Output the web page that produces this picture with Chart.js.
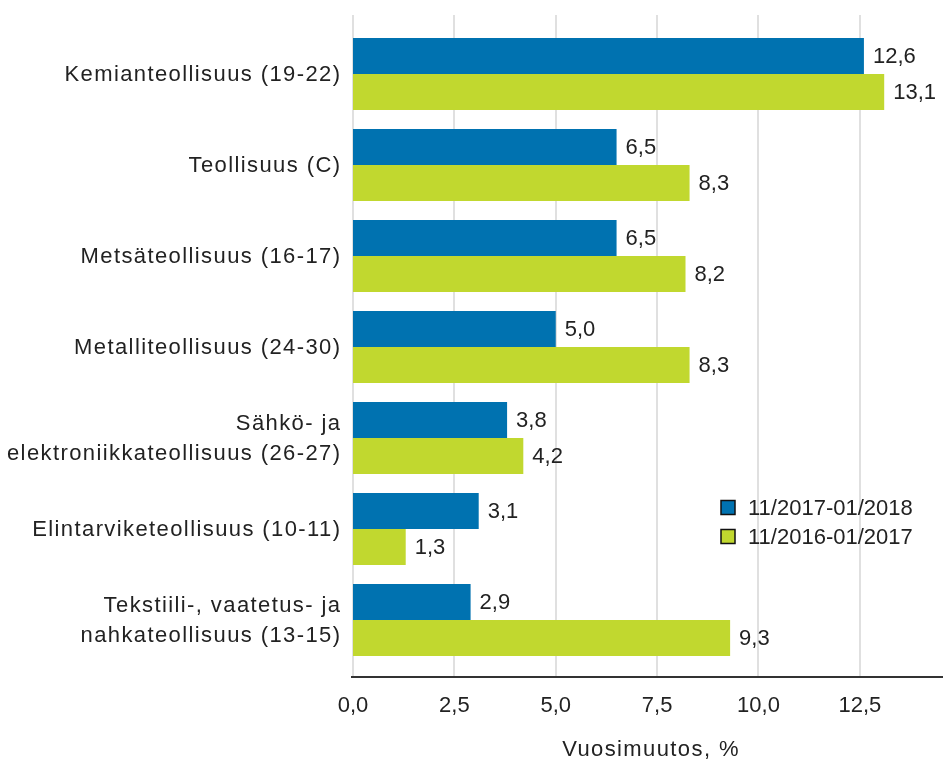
<!DOCTYPE html>
<html>
<head>
<meta charset="utf-8">
<script src="https://cdn.jsdelivr.net/npm/chart.js@4"></script>
<style>
  html, body { margin: 0; padding: 0; background: #fff; }
  canvas { display: block; }
</style>
</head>
<body>
<canvas id="chart" width="943" height="760"></canvas>
<script>
// --- DATA ---
const categories = [
  'Kemianteollisuus (19-22)',
  'Teollisuus (C)',
  'Metsäteollisuus (16-17)',
  'Metalliteollisuus (24-30)',
  ['Sähkö- ja', 'elektroniikkateollisuus (26-27)'],
  'Elintarviketeollisuus (10-11)',
  ['Tekstiili-, vaatetus- ja', 'nahkateollisuus (13-15)']
];
const seriesLabels = ['11/2017-01/2018', '11/2016-01/2017'];
const values2018 = [12.6, 6.5, 6.5, 5.0, 3.8, 3.1, 2.9];
const values2017 = [13.1, 8.3, 8.2, 8.3, 4.2, 1.3, 9.3];
const tickValues = [0, 2.5, 5, 7.5, 10, 12.5];
const axisTitle = 'Vuosimuutos, %';

// --- STYLE ---
const FONT = "'Liberation Sans', Arial, sans-serif";
const TEXT = '#222';
const BLUE = '#0072B0';
const GREEN = '#C1D82F';
const fmt = v => v.toFixed(1).replace('.', ',');

// gridlines run a bit past the plot area, like in the original
const gridPlugin = {
  id: 'grid',
  beforeDatasetsDraw(chart) {
    const { ctx, chartArea } = chart;
    const x = chart.scales.x;
    const top = chartArea.top - 13.5;
    const bottom = chartArea.bottom + 11.5;
    ctx.save();
    ctx.strokeStyle = '#e0e0e0';
    ctx.lineWidth = 2;
    tickValues.forEach(v => {
      const px = Math.round(x.getPixelForValue(v));
      ctx.beginPath();
      ctx.moveTo(px, top);
      ctx.lineTo(px, bottom);
      ctx.stroke();
    });
    ctx.strokeStyle = '#333';
    ctx.lineWidth = 2;
    ctx.beginPath();
    ctx.moveTo(chartArea.left - 2, bottom);
    ctx.lineTo(chartArea.right, bottom);
    ctx.stroke();
    ctx.restore();
  }
};

const textPlugin = {
  id: 'texts',
  afterDatasetsDraw(chart) {
    const { ctx, chartArea } = chart;
    const y = chart.scales.y;
    ctx.save();
    ctx.fillStyle = TEXT;
    ctx.font = '22px ' + FONT;
    ctx.textBaseline = 'middle';

    // value labels at bar ends
    ctx.textAlign = 'left';
    chart.data.datasets.forEach((ds, di) => {
      chart.getDatasetMeta(di).data.forEach((bar, i) => {
        ctx.fillText(fmt(ds.data[i]), bar.x + 9, bar.y + 1);
      });
    });

    // category labels
    const ls = 1.4;
    ctx.letterSpacing = ls + 'px';
    ctx.textAlign = 'right';
    categories.forEach((label, i) => {
      const lines = Array.isArray(label) ? label : [label];
      const cy = y.getPixelForValue(i);
      lines.forEach((line, j) => {
        ctx.fillText(line, chartArea.left - 13 + ls, cy + 1 + (j - (lines.length - 1) / 2) * 30);
      });
    });

    // axis title
    ctx.textAlign = 'center';
    ctx.fillText(axisTitle, (chartArea.left + chartArea.right) / 2 + 3, chartArea.bottom + 84);
    ctx.letterSpacing = '0px';

    // legend
    ctx.textAlign = 'left';
    const lx = chartArea.left + 368;
    const ly = chartArea.top + 472;
    chart.data.datasets.forEach((ds, di) => {
      const sy = ly + di * 29;
      ctx.fillStyle = ds.backgroundColor;
      ctx.fillRect(lx, sy, 14, 14);
      ctx.strokeStyle = '#111';
      ctx.lineWidth = 1.5;
      ctx.strokeRect(lx, sy, 14, 14);
      ctx.fillStyle = TEXT;
      ctx.fillText(ds.label, lx + 27, sy + 8);
    });
    ctx.restore();
  }
};

new Chart(document.getElementById('chart'), {
  type: 'bar',
  data: {
    labels: categories,
    datasets: [
      { label: seriesLabels[0], data: values2018, backgroundColor: BLUE },
      { label: seriesLabels[1], data: values2017, backgroundColor: GREEN }
    ]
  },
  options: {
    indexAxis: 'y',
    responsive: false,
    animation: false,
    devicePixelRatio: 1,
    layout: { padding: { top: 28.5, right: 0, bottom: 0, left: 0 } },
    datasets: { bar: { barPercentage: 1, categoryPercentage: 0.791 } },
    plugins: {
      legend: { display: false },
      tooltip: { enabled: false }
    },
    scales: {
      x: {
        type: 'linear',
        min: 0,
        max: 14.55,
        afterBuildTicks: scale => { scale.ticks = tickValues.map(value => ({ value })); },
        afterFit: scale => { scale.height = 94.5; },
        grid: { display: false, drawTicks: false },
        border: { display: false },
        ticks: {
          autoSkip: false,
          maxRotation: 0,
          padding: 27,
          color: TEXT,
          font: { family: FONT, size: 22 },
          callback: v => fmt(v)
        }
      },
      y: {
        afterFit: scale => { scale.width = 353; },
        grid: { display: false, drawTicks: false },
        border: { display: false },
        ticks: { display: false }
      }
    }
  },
  plugins: [gridPlugin, textPlugin]
});
</script>
</body>
</html>
